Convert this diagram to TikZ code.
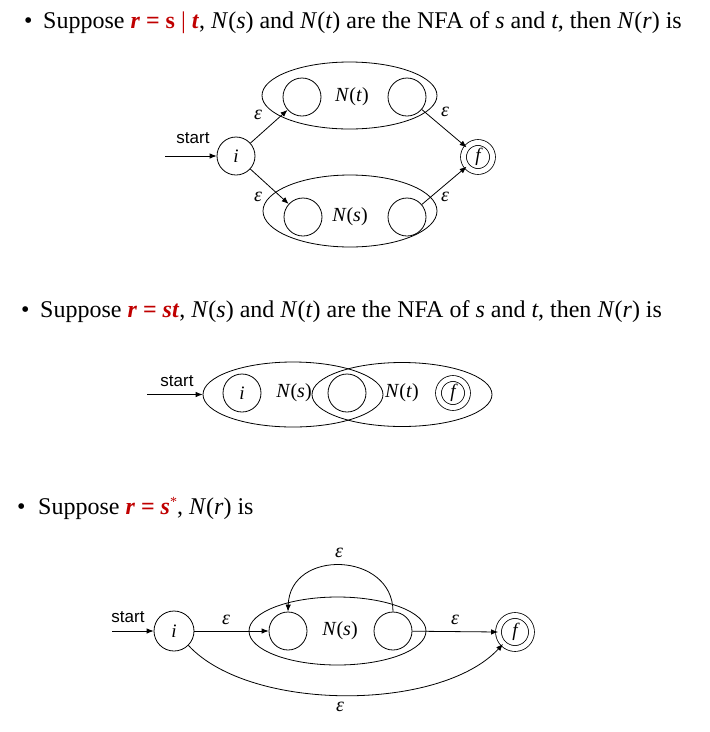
\documentclass[tikz,border=0pt]{standalone}
\usepackage{fontspec}
\setmainfont{Liberation Serif}
\setsansfont{Liberation Sans}
\usetikzlibrary{shapes.geometric,arrows.meta}
\definecolor{kwred}{RGB}{192,0,0}
\tikzset{
  st/.style={circle,draw,line width=0.8pt,minimum size=38pt,inner sep=0pt,font=\fontsize{19}{19}\selectfont\itshape},
  fst/.style={circle,draw,line width=0.8pt,double,double distance=5pt,minimum size=29pt,inner sep=0pt,font=\fontsize{19}{19}\selectfont\itshape},
  nfa/.style={ellipse,draw,line width=0.8pt,inner sep=0pt},
  lab/.style={font=\fontsize{20}{20}\selectfont\itshape,inner sep=0pt},
  eps/.style={font=\fontsize{20}{20}\selectfont\itshape,inner sep=0pt},
  startlab/.style={font=\fontsize{17}{17}\sffamily,inner sep=0pt},
  line/.style={line width=0.8pt,-{Latex[length=7pt,width=5.5pt]}},
  txt/.style={anchor=base west,inner sep=0pt,font=\fontsize{24}{28}\selectfont},
}
\newcommand{\rd}[1]{\textcolor{kwred}{#1}}
\begin{document}
\begin{tikzpicture}[x=1pt,y=-1pt]
\useasboundingbox[fill=white] (0,0) rectangle (710,732);

% ---------- text lines ----------
\node[txt] (b1) at (24,28) {•};
\node[txt] (t1) at (43,28) {Suppose \rd{\textbf{\textit{r}} \textbf{=} \textbf{s} | \textbf{\textit{t}}}, \textit{N}(\textit{s}) and \textit{N}(\textit{t}) are the NFA of \textit{s} and \textit{t}, then \textit{N}(\textit{r}) is};
\node[txt] (b2) at (21,317) {•};
\node[txt] (t2) at (40,317) {Suppose \rd{\textbf{\textit{r}} \textbf{=} \textbf{\textit{st}}}, \textit{N}(\textit{s}) and \textit{N}(\textit{t}) are the NFA of \textit{s} and \textit{t}, then \textit{N}(\textit{r}) is};
\node[txt] (b3) at (17,514) {•};
\node[txt] (t3) at (38,514) {Suppose \rd{\textbf{\textit{r}} \textbf{=} \textbf{\textit{s}}\raisebox{0.3em}{\fontsize{14}{14}\selectfont *}}, \textit{N}(\textit{r}) is};

% ---------- diagram 1: r = s | t ----------
\node[nfa,minimum width=175pt,minimum height=67pt] (e1t) at (349.5,95.5) {};
\node[nfa,minimum width=174pt,minimum height=72pt] (e1s) at (350,211) {};
\node[st] (i1) at (236,156) {i};
\node[st] (ta) at (302,97) {};
\node[st] (tb) at (407,97) {};
\node[st] (sa) at (303,217) {};
\node[st] (sb) at (407,217) {};
\node[fst] (f1) at (478,157) {f};
\node[lab] (nt1) at (352,97) {N\textup{(}t\textup{)}};
\node[lab] (ns1) at (350,217) {N\textup{(}s\textup{)}};
\coordinate (s1) at (165,156);
\node[startlab] (sl1) at (193,138) {start};
\draw[line] (s1) -- (i1);
\draw[line] (i1) -- (ta);
\draw[line] (i1) -- (sa);
\draw[line] (tb) -- (f1);
\draw[line] (sb) -- (f1);
\node[eps] (ea1) at (258,115) {ε};
\node[eps] (eb1) at (445,112) {ε};
\node[eps] (ec1) at (258,197) {ε};
\node[eps] (ed1) at (445,197) {ε};

% ---------- diagram 2: r = st ----------
\node[nfa,minimum width=180pt,minimum height=65pt] (e2s) at (293,394.5) {};
\node[nfa,minimum width=180pt,minimum height=64pt] (e2t) at (402,394.5) {};
\node[st] (i2) at (242,393) {i};
\node[st] (m2) at (347,393) {};
\node[fst] (f2) at (453,393) {f};
\node[lab] (ns2) at (294,393) {N\textup{(}s\textup{)}};
\node[lab] (nt2) at (402,393) {N\textup{(}t\textup{)}};
\coordinate (s2) at (147,394.5);
\node[startlab] (sl2) at (177,381) {start};
\draw[line] (s2) -- (e2s.west);

% ---------- diagram 3: r = s* ----------
\node[nfa,minimum width=177pt,minimum height=68pt] (e3) at (337.5,631) {};
\node[st,minimum size=40pt] (i3) at (174,631) {i};
\node[st] (a3) at (288,631) {};
\node[st] (b3) at (393,631) {};
\node[fst,minimum size=33pt] (f3) at (515,632) {f};
\node[lab] (ns3) at (340,631) {N\textup{(}s\textup{)}};
\coordinate (s3) at (112,631);
\node[startlab] (sl3) at (128,617) {start};
\draw[line] (s3) -- (i3);
\draw[line] (i3) -- (a3);
\draw[line] (b3) -- (f3.west);
\draw[line] (b3.north) .. controls (393,552) and (290,548) .. (a3.north);
\draw[line] (i3.-45) .. controls (250,712) and (440,712) .. (f3.-135);
\node[eps] (ea3) at (226,620) {ε};
\node[eps] (eb3) at (455,620) {ε};
\node[eps] (ec3) at (339,553) {ε};
\node[eps] (ed3) at (340,707) {ε};
\end{tikzpicture}
\end{document}
